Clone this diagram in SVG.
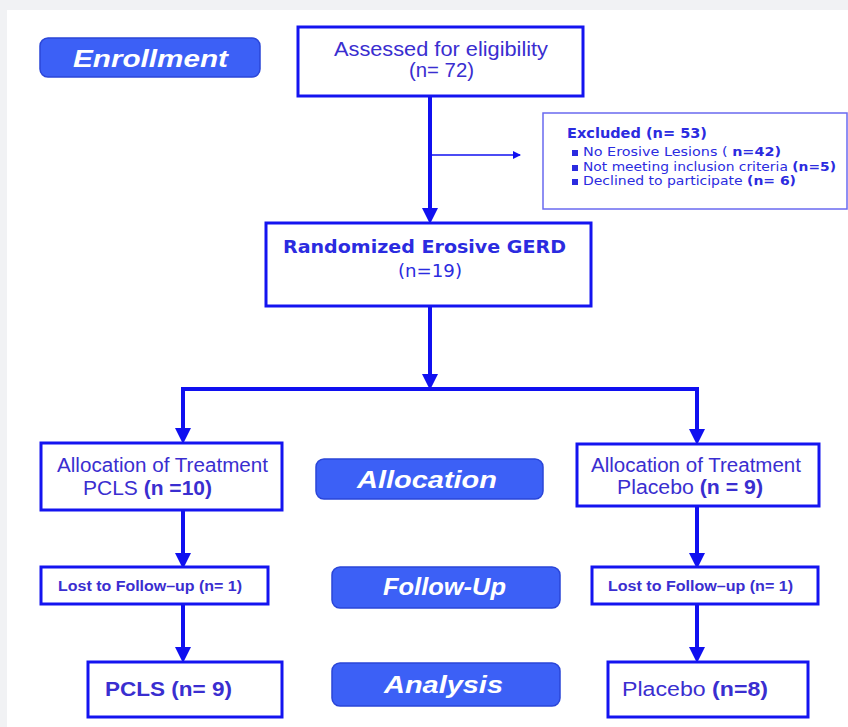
<svg xmlns="http://www.w3.org/2000/svg" width="848" height="727" viewBox="0 0 848 727">
<defs>
<style>
.box{fill:#fff;stroke:#1414f0;stroke-width:3}
.pill{fill:#3c60f6;stroke:#2a45d8;stroke-width:1.5}
.pt{font-family:"Liberation Sans",Arial,sans-serif;font-weight:bold;font-style:italic;font-size:24px;fill:#fff}
.n{font-family:"Liberation Sans",Arial,sans-serif;fill:#3a2ed0}
.w{font-family:"DejaVu Sans",Verdana,sans-serif;fill:#2b2be0}
.ln{stroke:#1010f0;stroke-width:4;fill:none}
</style>
<marker id="ah" markerWidth="4" markerHeight="4" refX="3" refY="2" orient="auto" markerUnits="strokeWidth">
<path d="M0,0 L4,2 L0,4 Z" fill="#1010f0"/>
</marker>
<marker id="ah2" markerWidth="8" markerHeight="8" refX="7" refY="4" orient="auto" markerUnits="userSpaceOnUse">
<path d="M0,0 L8,4 L0,8 Z" fill="#1010f0"/>
</marker>
</defs>
<rect width="848" height="727" fill="#f1f2f4"/>
<rect x="7" y="10" width="841" height="717" fill="#fff"/>

<g id="connectors">
<line class="ln" x1="430" y1="96" x2="430" y2="220" marker-end="url(#ah)"/>
<line x1="430" y1="155" x2="520" y2="155" stroke="#1010f0" stroke-width="1.5" marker-end="url(#ah2)"/>
<line class="ln" x1="430" y1="306" x2="430" y2="386" marker-end="url(#ah)"/>
<line class="ln" x1="181" y1="389" x2="699" y2="389"/>
<line class="ln" x1="183" y1="389" x2="183" y2="440" marker-end="url(#ah)"/>
<line class="ln" x1="697" y1="389" x2="697" y2="441" marker-end="url(#ah)"/>
<line class="ln" x1="183" y1="510" x2="183" y2="565" marker-end="url(#ah)"/>
<line class="ln" x1="697" y1="507" x2="697" y2="565" marker-end="url(#ah)"/>
<line class="ln" x1="183" y1="605" x2="183" y2="659" marker-end="url(#ah)"/>
<line class="ln" x1="697" y1="605" x2="697" y2="659" marker-end="url(#ah)"/>
</g>

<g id="enrollment">
<rect class="pill" x="40" y="38" width="220" height="39" rx="8"/>
<text class="pt" x="73" y="67" textLength="155" lengthAdjust="spacingAndGlyphs">Enrollment</text>
</g>

<g id="assessed">
<rect class="box" x="298" y="27" width="285" height="69"/>
<text class="n" x="334" y="56" font-size="20" textLength="214" lengthAdjust="spacingAndGlyphs">Assessed for eligibility</text>
<text class="n" x="409" y="77" font-size="20" textLength="65" lengthAdjust="spacingAndGlyphs">(n= 72)</text>
</g>

<g id="excluded">
<rect x="543" y="113" width="304" height="96" fill="#fff" stroke="#6a6af0" stroke-width="1.5"/>
<text class="w" x="567" y="138" font-size="13.5" font-weight="bold" textLength="140" lengthAdjust="spacingAndGlyphs">Excluded (n= 53)</text>
<rect x="572" y="150" width="6" height="6" fill="#2b2be0"/>
<text class="w" x="583" y="156" font-size="11.5" textLength="198" lengthAdjust="spacingAndGlyphs">No Erosive Lesions ( <tspan font-weight="bold">n=42)</tspan></text>
<rect x="572" y="165" width="6" height="6" fill="#2b2be0"/>
<text class="w" x="583" y="171" font-size="11.5" textLength="253" lengthAdjust="spacingAndGlyphs">Not meeting inclusion criteria <tspan font-weight="bold">(n=5)</tspan></text>
<rect x="572" y="179" width="6" height="6" fill="#2b2be0"/>
<text class="w" x="583" y="185" font-size="11.5" textLength="213" lengthAdjust="spacingAndGlyphs">Declined to participate  <tspan font-weight="bold">(n= 6)</tspan></text>
</g>

<g id="randomized">
<rect class="box" x="266" y="223" width="325" height="83"/>
<text class="w" x="283" y="253" font-size="18" font-weight="bold" textLength="283" lengthAdjust="spacingAndGlyphs">Randomized Erosive GERD</text>
<text class="w" x="398" y="277" font-size="17" fill="#4a3ad8" textLength="64" lengthAdjust="spacingAndGlyphs">(n=19)</text>
</g>

<g id="alloc-left">
<rect class="box" x="41" y="443" width="241" height="67"/>
<text class="n" x="57" y="472" font-size="20" textLength="211" lengthAdjust="spacingAndGlyphs">Allocation of Treatment</text>
<text class="n" x="83" y="495" font-size="20" textLength="129" lengthAdjust="spacingAndGlyphs">PCLS <tspan font-weight="bold">(n =10)</tspan></text>
</g>

<g id="allocation">
<rect class="pill" x="316" y="459" width="227" height="40" rx="8"/>
<text class="pt" x="357" y="488" textLength="140" lengthAdjust="spacingAndGlyphs">Allocation</text>
</g>

<g id="alloc-right">
<rect class="box" x="577" y="444" width="242" height="62"/>
<text class="n" x="591" y="472" font-size="20" textLength="210" lengthAdjust="spacingAndGlyphs">Allocation of Treatment</text>
<text class="n" x="617" y="494" font-size="20" textLength="146" lengthAdjust="spacingAndGlyphs">Placebo <tspan font-weight="bold">(n = 9)</tspan></text>
</g>

<g id="lost-left">
<rect class="box" x="41" y="567" width="227" height="37"/>
<text class="n" x="58" y="591" font-size="14" font-weight="bold" textLength="184" lengthAdjust="spacingAndGlyphs">Lost to Follow–up (n= 1)</text>
</g>

<g id="followup">
<rect class="pill" x="332" y="567" width="228" height="41" rx="8"/>
<text class="pt" x="383" y="595" textLength="123" lengthAdjust="spacingAndGlyphs">Follow-Up</text>
</g>

<g id="lost-right">
<rect class="box" x="592" y="567" width="226" height="37"/>
<text class="n" x="608" y="591" font-size="14" font-weight="bold" textLength="185" lengthAdjust="spacingAndGlyphs">Lost to Follow–up (n= 1)</text>
</g>

<g id="analysis-left">
<rect class="box" x="88" y="662" width="194" height="55"/>
<text class="n" x="105" y="696" font-size="20" font-weight="bold" textLength="127" lengthAdjust="spacingAndGlyphs">PCLS (n= 9)</text>
</g>

<g id="analysis">
<rect class="pill" x="332" y="663" width="228" height="43" rx="8"/>
<text class="pt" x="384" y="693" textLength="119" lengthAdjust="spacingAndGlyphs">Analysis</text>
</g>

<g id="analysis-right">
<rect class="box" x="608" y="662" width="200" height="55"/>
<text class="n" x="622" y="696" font-size="20" textLength="146" lengthAdjust="spacingAndGlyphs">Placebo <tspan font-weight="bold">(n=8)</tspan></text>
</g>
</svg>
